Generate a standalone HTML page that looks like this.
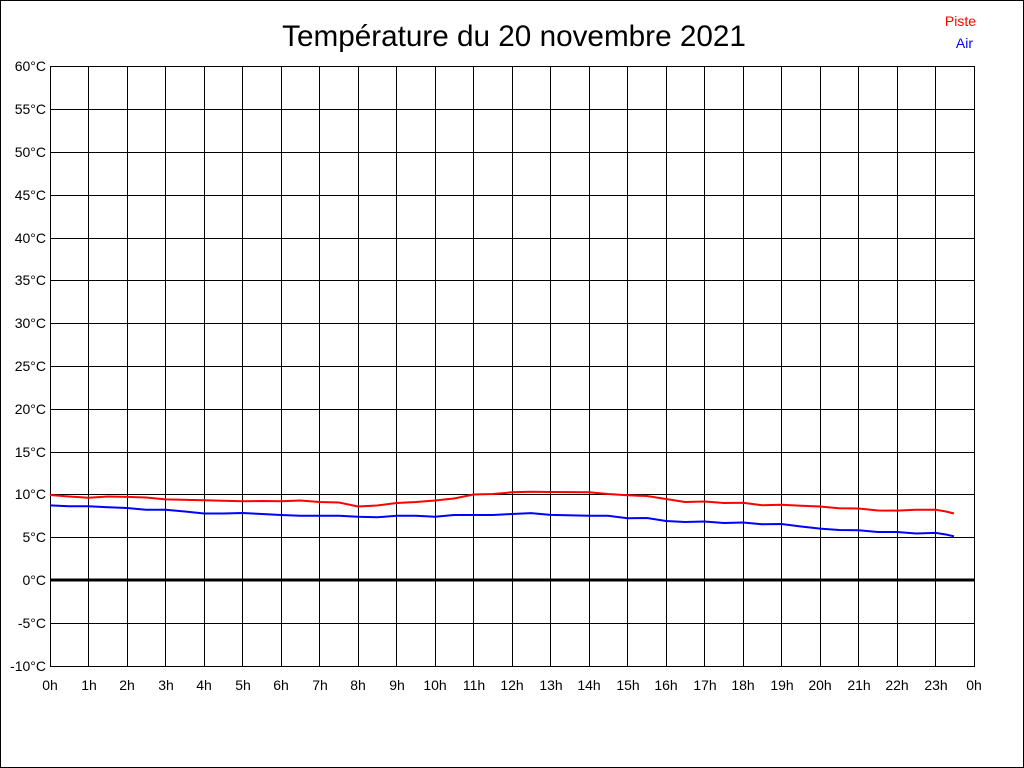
<!DOCTYPE html>
<html><head><meta charset="utf-8"><style>
html,body{margin:0;padding:0;background:#fff}
svg{display:block}
text{font-family:"Liberation Sans",Arial,sans-serif}
</style></head><body>
<svg width="1024" height="768" viewBox="0 0 1024 768" xmlns="http://www.w3.org/2000/svg">
<rect x="0.5" y="0.5" width="1023" height="767" fill="#fff" stroke="#000"/>
<text x="514" y="46" font-size="29.7" text-anchor="middle" fill="#000">Température du 20 novembre 2021</text>
<text x="976" y="26" font-size="14" text-anchor="end" fill="#f00">Piste</text>
<text x="973" y="48" font-size="14" text-anchor="end" fill="#00f">Air</text>
<g stroke="#000" stroke-width="1" shape-rendering="crispEdges">
<rect x="50.5" y="66.5" width="924" height="600" fill="none"/>
<path d="M50 109.5H974M50 152.5H974M50 195.5H974M50 238.5H974M50 280.5H974M50 323.5H974M50 366.5H974M50 409.5H974M50 452.5H974M50 494.5H974M50 537.5H974M50 623.5H974"/>
<path d="M88.5 66V666M127.5 66V666M165.5 66V666M204.5 66V666M242.5 66V666M281.5 66V666M319.5 66V666M358.5 66V666M396.5 66V666M435.5 66V666M473.5 66V666M512.5 66V666M550.5 66V666M589.5 66V666M627.5 66V666M666.5 66V666M704.5 66V666M743.5 66V666M781.5 66V666M820.5 66V666M858.5 66V666M897.5 66V666M935.5 66V666"/>
<path d="M50 580H974" stroke-width="3"/>
</g>
<g font-size="14" fill="#000" text-anchor="end">
<text x="46" y="71">60°C</text><text x="46" y="114">55°C</text><text x="46" y="157">50°C</text><text x="46" y="200">45°C</text><text x="46" y="243">40°C</text><text x="46" y="285">35°C</text><text x="46" y="328">30°C</text><text x="46" y="371">25°C</text><text x="46" y="414">20°C</text><text x="46" y="457">15°C</text><text x="46" y="499">10°C</text><text x="46" y="542">5°C</text><text x="46" y="585">0°C</text><text x="46" y="628">-5°C</text><text x="46" y="671">-10°C</text>
</g>
<g font-size="14" fill="#000" text-anchor="middle">
<text x="50" y="690">0h</text><text x="89" y="690">1h</text><text x="127" y="690">2h</text><text x="166" y="690">3h</text><text x="204" y="690">4h</text><text x="243" y="690">5h</text><text x="281" y="690">6h</text><text x="320" y="690">7h</text><text x="358" y="690">8h</text><text x="397" y="690">9h</text><text x="435" y="690">10h</text><text x="474" y="690">11h</text><text x="512" y="690">12h</text><text x="551" y="690">13h</text><text x="589" y="690">14h</text><text x="628" y="690">15h</text><text x="666" y="690">16h</text><text x="705" y="690">17h</text><text x="743" y="690">18h</text><text x="782" y="690">19h</text><text x="820" y="690">20h</text><text x="859" y="690">21h</text><text x="897" y="690">22h</text><text x="936" y="690">23h</text><text x="974" y="690">0h</text>
</g>
<polyline fill="none" stroke="#f00" stroke-width="2" points="50,495 69,496.5 88.5,497.7 108,496.5 127,496.9 146,497.5 165.5,499.4 204,500.3 242.5,501.3 262,501 281,501.3 300,500.5 319.5,502 339,502.5 358,506.5 377,505.5 396.5,503 416,502 435,500.5 454,498.5 473.5,494.5 493,494 512,492.3 531,491.7 550.5,492 589,492.3 608,494 627.5,495.3 647,496 666,499 685,502 704.5,501.5 724,503 743,502.8 762,505.3 781.5,504.8 801,505.8 820,506.5 839,508.3 858.5,508.5 878,510.5 897,510.6 916,509.7 935.5,509.7 946,511.5 954,513.5"/>
<polyline fill="none" stroke="#00f" stroke-width="2" points="50,505.4 69,506.3 88.5,506.3 108,507.2 127,508 146,509.7 165.5,509.7 185,511.5 204,513.5 223,513.5 242.5,513 262,514 281,515 300,515.7 319.5,515.7 339,515.7 358,516.8 377,517.3 396.5,515.7 416,515.7 435,516.8 454,515 473.5,515 493,515 512,514 531,513.1 550.5,514.9 589,515.7 608,515.7 627.5,518.3 647,518 666,521 685,522 704.5,521.5 724,523 743,522.5 762,524.3 781.5,524 801,526.5 820,528.6 839,530 858.5,530.3 878,532 897,532 916,533.5 935.5,532.9 946,534.5 954,536.3"/>
</svg>
</body></html>
